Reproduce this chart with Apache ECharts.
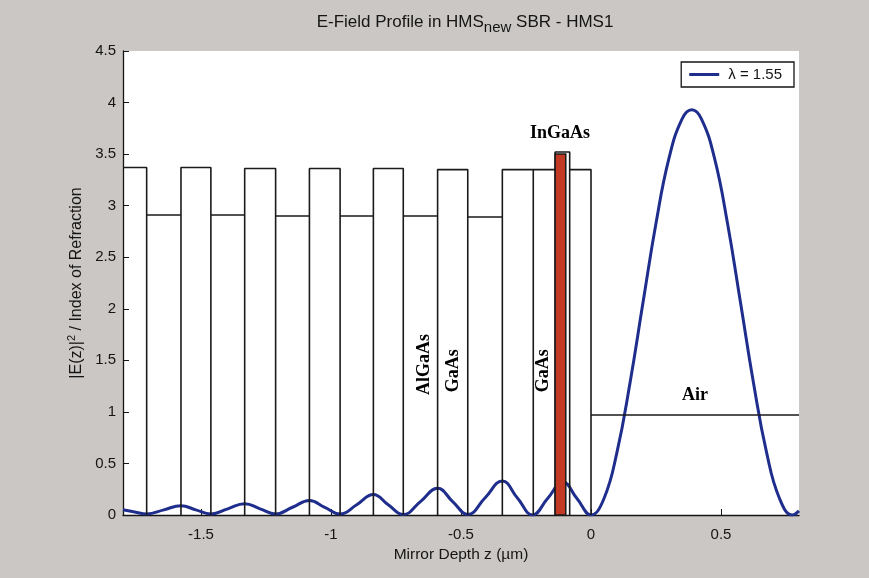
<!DOCTYPE html>
<html>
<head>
<meta charset="utf-8">
<script src="https://cdn.jsdelivr.net/npm/echarts@6/dist/echarts.min.js"></script>
<style>
  html, body { margin: 0; padding: 0; background: #cac7c4; }
  #chart { width: 869px; height: 578px; }
</style>
</head>
<body>
<div id="chart"></div>
<script>
// Layer boundaries of the SBR stack (µm) and the refractive index of each layer
const layerEdges = [-1.8, -1.709, -1.577, -1.462, -1.332, -1.213, -1.083, -0.965, -0.837,
                    -0.722, -0.590, -0.474, -0.341, -0.222, -0.138, -0.082, 0, 0.8];
const layerIndex = [3.37, 2.91, 3.37, 2.91, 3.36, 2.90, 3.36, 2.90, 3.36,
                    2.90, 3.35, 2.89, 3.35, 3.35, 3.52, 3.35, 0.97];

// Standing-wave intensity |E(z)|^2 at λ = 1.55 µm
const fieldZ = [-1.8, -1.755, -1.709, -1.643, -1.577, -1.52, -1.462, -1.397, -1.332, -1.273,
                -1.213, -1.148, -1.083, -1.024, -0.965, -0.901, -0.837, -0.78, -0.722, -0.656,
                -0.59, -0.532, -0.474, -0.408, -0.341, -0.283, -0.225, -0.167, -0.108, -0.054,
                0, 0.05, 0.1, 0.15, 0.2, 0.25, 0.3, 0.35, 0.3875, 0.425,
                0.475, 0.525, 0.575, 0.625, 0.675, 0.725, 0.775, 0.8];
const fieldE = [0.05, 0.03, 0.01, 0.05, 0.09, 0.05, 0.01, 0.06, 0.11, 0.06,
                0.01, 0.075, 0.14, 0.075, 0.01, 0.10, 0.20, 0.10, 0.005, 0.13,
                0.26, 0.13, 0.005, 0.165, 0.33, 0.165, 0, 0.16, 0.32, 0.16,
                0, 0.16, 0.61, 1.28, 2.06, 2.83, 3.46, 3.84, 3.93, 3.84,
                3.46, 2.83, 2.06, 1.28, 0.61, 0.16, 0, 0.04];

// InGaAs absorber highlight: [zStart, zEnd, height]
const absorber = [[-0.138, -0.097, 3.5]];

// Layer annotations: [z, y, text, rotated]
const annotations = [
  [-0.119, 3.70, 'InGaAs', false],
  [-0.642, 1.46, 'AlGaAs', true],
  [-0.531, 1.40, 'GaAs', true],
  [-0.185, 1.40, 'GaAs', true],
  [0.40, 1.16, 'Air', false]
];

const xTickValues = [-1.5, -1, -0.5, 0, 0.5];
const seriesName = 'λ = 1.55';

// Index profile drawn as a row of rectangles standing on the z axis
const profile = [];
for (let i = 0; i < layerIndex.length; i++) {
  const a = layerEdges[i], b = layerEdges[i + 1], n = layerIndex[i];
  if (i > 0) profile.push([a, 0]);
  profile.push([a, n]);
  profile.push([b, n]);
  if (i < layerIndex.length - 1) profile.push([b, 0]);
}

const field = fieldZ.map((z, i) => [z, fieldE[i]]);

const font = "'Liberation Sans', Arial, sans-serif";
const serif = "'Liberation Serif', 'Times New Roman', serif";
const ink = '#151515';

const chart = echarts.init(document.getElementById('chart'));
chart.setOption({
  backgroundColor: '#cac7c4',
  animation: false,
  title: {
    text: 'E-Field Profile in HMS{sub|new} SBR - HMS1',
    left: 460,
    textAlign: 'center',
    top: 5,
    textStyle: {
      fontFamily: font, fontSize: 17, fontWeight: 'normal', color: ink,
      rich: { sub: { fontFamily: font, fontSize: 15, color: ink, verticalAlign: 'bottom', padding: [10, 0, 0, 0] } }
    }
  },
  legend: {
    data: [{ name: seriesName, icon: 'rect' }],
    right: 75, top: 62,
    backgroundColor: '#fff',
    borderColor: ink, borderWidth: 1.3, borderRadius: 0,
    padding: [5, 12, 5, 8],
    itemWidth: 30, itemHeight: 3, itemGap: 10,
    textStyle: { fontFamily: font, fontSize: 15, color: ink, padding: [0, 0, 0, 4] }
  },
  grid: { left: 123, right: 70, top: 51, bottom: 63, backgroundColor: '#fff', show: true, borderWidth: 0 },
  xAxis: {
    type: 'value', min: -1.8, max: 0.8,
    name: 'Mirror Depth z (µm)', nameLocation: 'middle', nameGap: 31,
    nameTextStyle: { fontFamily: font, fontSize: 15.5, color: ink },
    axisLine: { onZero: false, lineStyle: { color: ink, width: 1.3 } },
    axisTick: { inside: true, length: 6, customValues: xTickValues, lineStyle: { color: ink } },
    axisLabel: { customValues: xTickValues, fontFamily: font, fontSize: 15, color: ink, margin: 12 },
    splitLine: { show: false }
  },
  yAxis: {
    type: 'value', min: 0, max: 4.5, interval: 0.5,
    name: '|E(z)|{sup|2} / Index of Refraction', nameLocation: 'middle', nameGap: 33, nameRotate: 90,
    nameTextStyle: {
      fontFamily: font, fontSize: 16, color: ink,
      rich: { sup: { fontFamily: font, fontSize: 11, color: ink, verticalAlign: 'top', padding: [0, 0, 8, 0] } }
    },
    axisLine: { show: true, onZero: false, lineStyle: { color: ink, width: 1.3 } },
    axisTick: { show: true, inside: true, length: 6, lineStyle: { color: ink } },
    axisLabel: { fontFamily: font, fontSize: 15, color: ink, margin: 7 },
    splitLine: { show: false }
  },
  series: [
    {
      name: seriesName,
      type: 'line',
      data: field,
      smooth: 0.45,
      symbol: 'none',
      z: 3,
      lineStyle: { color: '#1f2e8c', width: 3 },
      itemStyle: { color: '#1f2e8c' }
    },
    {
      name: 'index',
      type: 'line',
      data: profile,
      symbol: 'none',
      z: 4,
      lineStyle: { color: '#1a1a1a', width: 1.6 },
      itemStyle: { color: '#1a1a1a' }
    },
    {
      name: 'absorber',
      type: 'custom',
      z: 5,
      data: absorber,
      renderItem: function (params, api) {
        const p0 = api.coord([api.value(0), 0]);
        const p1 = api.coord([api.value(1), api.value(2)]);
        return {
          type: 'rect',
          shape: { x: p0[0], y: p1[1], width: p1[0] - p0[0], height: p0[1] - p1[1] },
          style: { fill: '#c23a24', stroke: '#1a1a1a', lineWidth: 1.5 }
        };
      }
    },
    {
      name: 'labels',
      type: 'scatter',
      symbolSize: 1,
      z: 6,
      silent: true,
      itemStyle: { opacity: 0 },
      data: annotations.map(a => ({
        value: [a[0], a[1]],
        label: {
          show: true, position: 'inside', formatter: a[2],
          rotate: a[3] ? 90 : 0,
          fontFamily: serif, fontWeight: 'bold', fontSize: 18, color: '#000',
          textBorderWidth: 0, opacity: 1
        }
      }))
    }
  ]
});
</script>
</body>
</html>
